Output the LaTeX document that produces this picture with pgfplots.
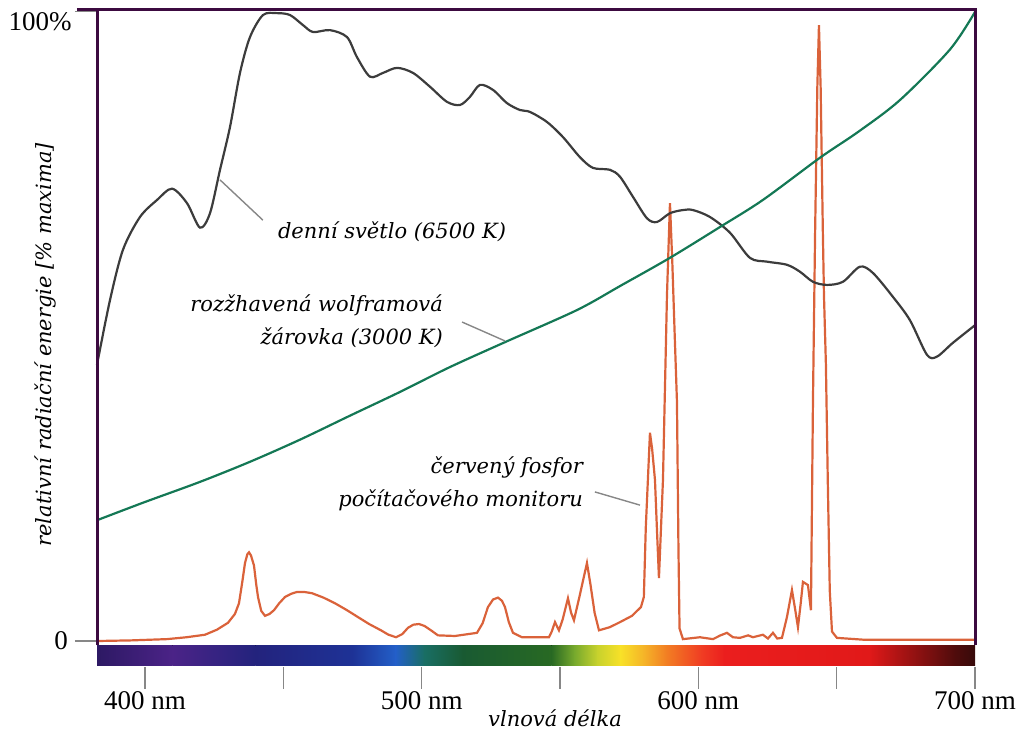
\documentclass[border=0pt]{standalone}
\usepackage{fontspec}
\setmainfont{Liberation Serif}
\newfontfamily\annot{DejaVu Serif}
\usepackage{pgfplots}
\pgfplotsset{compat=1.18}
\definecolor{frame}{RGB}{60,10,64}
\definecolor{day}{RGB}{60,60,60}
\definecolor{tung}{RGB}{20,120,85}
\definecolor{phos}{RGB}{218,98,58}
\definecolor{lead}{RGB}{135,135,135}
\definecolor{s1}{RGB}{45,25,100}
\definecolor{s2}{RGB}{75,35,135}
\definecolor{s3}{RGB}{35,35,125}
\definecolor{s4}{RGB}{30,50,150}
\definecolor{s5}{RGB}{35,95,200}
\definecolor{s6}{RGB}{25,110,100}
\definecolor{s7}{RGB}{25,90,50}
\definecolor{s8}{RGB}{40,105,35}
\definecolor{s9}{RGB}{120,170,45}
\definecolor{s10}{RGB}{200,210,45}
\definecolor{s11}{RGB}{248,225,40}
\definecolor{s12}{RGB}{245,180,40}
\definecolor{s13}{RGB}{242,125,35}
\definecolor{s14}{RGB}{240,60,35}
\definecolor{s15}{RGB}{235,30,30}
\definecolor{s16}{RGB}{225,25,25}
\definecolor{s17}{RGB}{175,20,20}
\definecolor{s18}{RGB}{80,12,12}
\definecolor{s19}{RGB}{55,10,10}
\newcommand{\afont}{\annot\itshape\fontsize{10.5bp}{16.5bp}\selectfont}
\newcommand{\seg}[4]{\fill[left color=#3,right color=#4] (axis cs:#1,-0.64) rectangle (axis cs:#2,-3.82);}
\begin{document}
\begin{tikzpicture}[x=1bp,y=1bp]
\begin{axis}[
  at={(48.5bp,34.6bp)}, anchor=south west,
  scale only axis, width=439bp, height=328.4bp,
  xmin=382.65, xmax=700, ymin=-4.1, ymax=100.3,
  clip=false,
  axis line style={draw=none},
  xtick={400,450,500,550,600,650,700},
  xticklabels={400 nm,,500 nm,,600 nm,,700 nm},
  ytick={0,100}, yticklabels={0,},
  xtick pos=left, ytick pos=left,
  tick align=outside, major tick length=11bp,
  tick style={lead, line width=0.6bp},
  xticklabel style={font=\fontsize{13.5bp}{16bp}\selectfont, yshift=2bp},
  yticklabel style={font=\fontsize{13.5bp}{16bp}\selectfont},
]
% colour spectrum bar
\seg{382.65}{410}{s1}{s2}
\seg{409.9}{440}{s2}{s3}
\seg{439.9}{475}{s3}{s4}
\seg{474.9}{490.7}{s4}{s5}
\seg{490.6}{501}{s5}{s6}
\seg{500.9}{515}{s6}{s7}
\seg{514.9}{547}{s7}{s8}
\seg{546.9}{555.4}{s8}{s9}
\seg{555.3}{563.7}{s9}{s10}
\seg{563.6}{572}{s10}{s11}
\seg{571.9}{580.3}{s11}{s12}
\seg{580.2}{588.7}{s12}{s13}
\seg{588.6}{601.3}{s13}{s14}
\seg{601.2}{609.6}{s14}{s15}
\seg{609.5}{661.7}{s15}{s16}
\seg{661.6}{672.1}{s16}{s17}
\seg{672.0}{692.7}{s17}{s18}
\seg{692.6}{700}{s18}{s19}

% red phosphor of a computer monitor
\addplot[phos, line width=1.1bp] table {
382.65 0.0
395 0.1
407.95 0.3
415 0.6
421.68 1.0
426 1.8
430.00 2.9
432.5 4.3
433.97 6.0
435.2 9.5
436.14 12.4
437.0 13.8
437.59 14.1
438.3 13.6
439.39 12.0
440.2 9.0
440.84 7.0
442.0 4.8
443.37 4.0
445.0 4.3
446.62 4.9
448.5 6.0
450.60 7.0
452.8 7.5
454.93 7.8
457.5 7.8
460.35 7.6
464.5 6.9
468.67 6.0
473 4.9
476.98 3.8
481 2.7
485.29 1.7
488 1.0
490.71 0.6
493 1.1
495.05 2.1
497 2.6
499.02 2.7
501 2.4
503.36 1.7
505.89 0.9
512 0.8
519.99 1.3
522 2.8
523.96 5.4
525.8 6.6
527.58 6.9
529 6.4
530.11 5.4
531.5 3.0
533.00 1.3
536.25 0.6
546.01 0.6
547 1.5
548.18 3.0
549.62 1.7
551 3.5
552.87 6.8
554 4.5
555.04 3.3
557 7.0
559.74 12.4
561 9.0
562.5 4.5
564.08 1.7
568 2.2
571.67 3.0
576 4.0
579.26 5.4
580.3 7.0
581.0 18
582.51 33.1
583.3 30.5
584.32 25.6
585.1 17
585.76 10.0
586.5 18
587.21 25.6
588.66 55
589.74 69.6
590.6 60
591.5 48
592.27 38
592.8 15
593.2 2
594.43 0.3
600.58 0.6
605.28 0.3
608 0.9
610.34 1.3
612.5 0.6
615.04 0.5
618 0.9
619.74 0.6
623.35 1.0
625.16 0.4
626.96 1.3
628.5 0.4
630.22 0.5
632.02 3.8
633.83 8.1
635.0 5.0
636.00 2.2
637.0 6.0
637.80 9.4
639.61 8.9
640.69 4.9
641.42 38
642.2 65
643.0 88
643.59 97.9
644.2 88
645.0 65
645.4 55
646.1 44
646.8 25
647.5 8
648.3 1.5
650.09 0.5
660 0.2
700 0.2
};

% daylight 6500 K
\addplot[day, line width=1.1bp, smooth] table {
382.65 43.9
387.35 54.2
392.05 62.2
398.19 67.4
404.34 70.1
409.76 71.9
415.18 69.6
419.88 65.7
423.49 68.0
427.11 74.9
430.72 81.7
434.33 90.3
437.95 96.0
442.65 99.5
447.70 99.8
452.40 99.5
457.10 97.9
460.72 96.8
466.86 97.1
473.00 96.0
476.62 92.8
481.32 89.7
486.01 90.3
491.07 91.1
496.86 90.3
503.00 88.1
509.14 85.7
513.84 85.2
517.46 86.5
521.07 88.4
525.77 87.6
530.83 85.5
535.53 84.4
539.14 84.1
545.28 82.5
551.07 80.1
557.21 76.9
561.91 75.2
568.05 74.9
571.67 73.8
576.37 70.6
581.42 67.2
585.04 66.6
589.74 68.0
594.43 68.5
598.05 68.5
604.19 67.4
611.42 64.9
618.65 60.9
624.79 60.3
632.02 59.8
636.72 58.7
641.42 57.1
646.48 56.6
652.26 57.1
658.40 59.5
663.10 58.5
670.33 54.7
676.47 51.0
682.62 45.5
686.23 45.2
692.01 47.4
700.00 50.2
};

% incandescent tungsten bulb 3000 K
\addplot[tung, line width=1.1bp, smooth] table {
382.65 19.2
400.0 22.1
419.9 25.3
438 28.5
456.0 32.0
474 35.8
492.2 39.6
510 43.5
530.1 47.5
556.1 52.6
572 56.5
589.7 60.9
607.8 65.8
623.3 70.1
643.9 76.8
658 81.0
672.9 86.0
690.9 94.0
700 100
};

% frame
\draw[frame, line width=1.5bp] (axis cs:382.65,-0.64) -- (axis cs:382.65,100.3) -- (axis cs:700,100.3) -- (axis cs:700,-0.64);
\draw[frame, line width=1.5bp] (axis cs:375.4,100.3) -- (axis cs:382.65,100.3);

% labels and annotations
\node[font=\fontsize{13.5bp}{16bp}\selectfont] at (axis cs:362.05,98.4) {100\%};
\node[font=\afont] at (axis cs:489.3,65.0) {denní světlo (6500 K)};
\draw[lead, line width=0.7bp] (axis cs:427.1,73.3) -- (axis cs:442.6,66.9);
\node[font=\afont, anchor=east, align=right] at (axis cs:510.2,50.9) {rozžhavená wolframová\\žárovka (3000 K)};
\draw[lead, line width=0.7bp] (axis cs:514.6,50.7) -- (axis cs:530.1,47.7);
\node[font=\afont, anchor=east, align=right] at (axis cs:560.8,25.0) {červený fosfor\\počítačového monitoru};
\draw[lead, line width=0.7bp] (axis cs:562.6,23.7) -- (axis cs:578.9,21.6);
\node[font=\afont] at (axis cs:548.2,-12.24) {vlnová délka};
\node[font=\afont, rotate=90] at (axis cs:363.86,47.1) {relativní radiační energie [\% maxima]};
\end{axis}
\pgfresetboundingbox
\path[use as bounding box] (0,0) rectangle (508,368);
\end{tikzpicture}
\end{document}
